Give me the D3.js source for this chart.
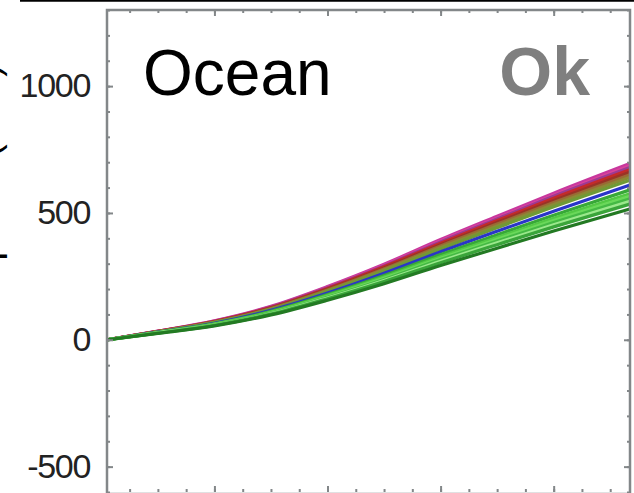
<!DOCTYPE html>
<html lang="en">
<head>
<meta charset="utf-8">
<script src="https://d3js.org/d3.v7.min.js"></script>
<style>
    body { margin: 0; background: #fff; }
    svg { display: block; }
    text { font-family: "Liberation Sans", Arial, sans-serif; }
</style>
</head>
<body>
<div id="chart"></div>
<script>
    // simulation years along the x axis
    const years = [2001, 2010, 2020, 2030, 2040, 2050, 2060, 2070, 2080, 2093.5];

    // cumulative ocean uptake per model run
    const run01 = [0, 34, 75, 132, 210, 298, 395, 487, 578, 695],
        run02 = [0, 33, 74, 130, 207, 294, 390, 480, 570, 686],
        run03 = [0, 33, 73, 129, 205, 291, 386, 476, 566, 679],
        run04 = [0, 33, 72, 127, 202, 288, 381, 470, 558, 670],
        run05 = [0, 32, 71, 125, 199, 283, 375, 463, 549, 661],
        run06 = [0, 32, 70, 123, 196, 279, 370, 456, 541, 651],
        run07 = [0, 31, 69, 121, 193, 275, 364, 449, 533, 641],
        run08 = [0, 31, 68, 119, 190, 270, 358, 442, 524, 629],
        run09 = [0, 30, 65, 116, 184, 262, 347, 428, 507, 610],
        run10 = [0, 29, 63, 112, 178, 253, 336, 414, 491, 591],
        run11 = [0, 28, 62, 109, 174, 247, 327, 403, 479, 576],
        run12 = [0, 27, 61, 107, 171, 243, 321, 396, 470, 566],
        run13 = [0, 27, 60, 105, 168, 238, 316, 389, 462, 556],
        run14 = [0, 27, 58, 103, 165, 234, 310, 382, 453, 546],
        run15 = [0, 26, 57, 101, 162, 230, 304, 375, 445, 535],
        run16 = [0, 25, 55, 98, 156, 221, 293, 361, 429, 516];

    const runs = [run01, run02, run03, run04, run05, run06, run07, run08,
                  run09, run10, run11, run12, run13, run14, run15, run16];

    const colors = ["#c8379e", "#d9449a", "#9b3a94", "#c42a2a", "#9a3326", "#9a6a35",
                    "#8a8a35", "#6f9a35", "#2a35c8", "#38a838", "#52c844", "#6ad85a",
                    "#44b944", "#9be88c", "#3aa53a", "#237a23"];

    const yMajor = [-500, 0, 500, 1000];

    const width = 634,
        height = 493,
        margin = {top: 10, right: 4, bottom: 1, left: 107};

    const svg = d3.select("#chart")
        .append("svg")
        .attr("width", width)
        .attr("height", height);

    const x = d3.scaleLinear()
        .domain([2001, 2093.5])
        .range([margin.left, width - margin.right]);

    const y = d3.scaleLinear()
        .domain([-600, 1300])
        .range([height - margin.bottom, margin.top]);

    // black rule left over from the panel above
    svg.append("line")
        .attr("x1", 20).attr("x2", width)
        .attr("y1", 0.5).attr("y2", 0.5)
        .attr("stroke", "#000")
        .attr("stroke-width", 2.5);

    // cut-off y axis title on the far left
    svg.append("text")
        .attr("transform", "translate(-1,64) rotate(-90)")
        .attr("text-anchor", "end")
        .style("font-size", "38px")
        .attr("fill", "#000")
        .text("Carbon uptake (GtC)");

    // model runs
    const line = d3.line()
        .x((d, i) => x(years[i]))
        .y(d => y(d))
        .curve(d3.curveMonotoneX);

    svg.append("g")
        .selectAll("path")
        .data(runs)
        .join("path")
        .attr("d", line)
        .attr("fill", "none")
        .attr("stroke", (d, i) => colors[i])
        .attr("stroke-width", 3.2)
        .attr("stroke-linejoin", "round");

    // axes with inward ticks
    const frameColor = "#838789";
    const xMinor = d3.range(2005, 2093, 5),
        xMajor = xMinor.filter(v => v % 20 === 0),
        yMinor = d3.range(-600, 1301, 100);

    const x0 = x.range()[0], x1 = x.range()[1],
        y0 = y.range()[1], y1 = y.range()[0];

    const addAxis = (axis, tx, ty, values, size, labels) => {
        const g = svg.append("g")
            .attr("transform", "translate(" + tx + "," + ty + ")")
            .call(axis.tickValues(values).tickSize(-size).tickPadding(17)
                      .tickFormat(labels ? d => String(d) : ""));
        g.select(".domain").remove();
        g.selectAll("line").attr("stroke", frameColor).attr("stroke-width", 2);
        return g;
    };

    addAxis(d3.axisLeft(y), x0, 0, yMinor, 3, false);
    addAxis(d3.axisRight(y), x1, 0, yMinor, 3, false);
    addAxis(d3.axisTop(x), 0, y0, xMinor, 3, false);
    addAxis(d3.axisBottom(x), 0, y1, xMinor, 3, false);
    addAxis(d3.axisRight(y), x1, 0, yMajor, 6, false);
    addAxis(d3.axisTop(x), 0, y0, xMajor, 6, false);
    addAxis(d3.axisBottom(x), 0, y1, xMajor, 6, false);

    const yAxis = addAxis(d3.axisLeft(y), x0, 0, yMajor, 6, true);
    yAxis.selectAll("text")
        .style("font-size", "34px")
        .style("letter-spacing", "-1.3px")
        .attr("fill", "#222");

    // plot frame
    svg.append("rect")
        .attr("x", x0).attr("y", y0)
        .attr("width", x1 - x0).attr("height", y1 - y0 + 2)
        .attr("fill", "none")
        .attr("stroke", frameColor)
        .attr("stroke-width", 2.5);

    // panel labels
    svg.append("text")
        .attr("x", 143).attr("y", 95)
        .style("font-size", "64px")
        .attr("fill", "#000")
        .text("Ocean");

    svg.append("text")
        .attr("x", 590).attr("y", 95)
        .attr("text-anchor", "end")
        .style("font-size", "68px")
        .style("font-weight", "bold")
        .attr("fill", "#7f7f7f")
        .text("Ok");
</script>
</body>
</html>
